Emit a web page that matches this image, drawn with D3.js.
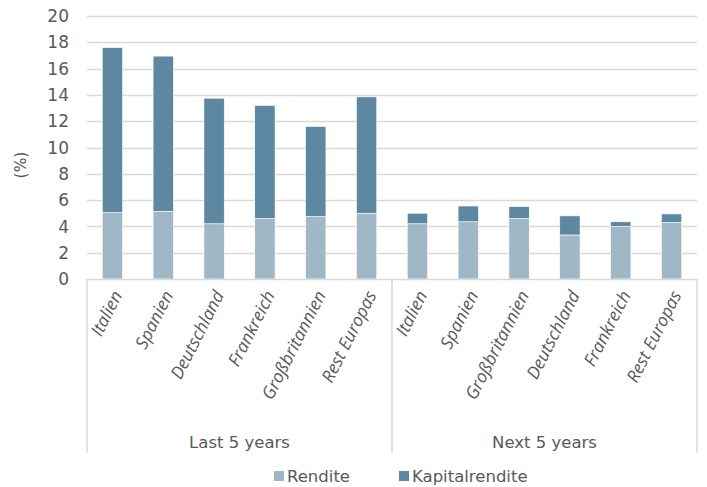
<!DOCTYPE html>
<html><head><meta charset="utf-8">
<script src="https://cdn.jsdelivr.net/npm/d3@7"></script>
<style>body{margin:0;background:#fff}svg{display:block}</style>
</head><body>
<script>
const groups = ["Last 5 years", "Next 5 years"];
const categoriesLast = ["Italien", "Spanien", "Deutschland", "Frankreich", "Großbritannien", "Rest Europas"];
const categoriesNext = ["Italien", "Spanien", "Großbritannien", "Deutschland", "Frankreich", "Rest Europas"];
const renditeLast = [5.05, 5.15, 4.2, 4.6, 4.75, 5.0];
const kapitalLast = [12.55, 11.8, 9.55, 8.6, 6.85, 8.85];
const renditeNext = [4.2, 4.35, 4.6, 3.35, 4.0, 4.3];
const kapitalNext = [0.8, 1.2, 0.9, 1.45, 0.35, 0.65];
const yTicks = [0, 2, 4, 6, 8, 10, 12, 14, 16, 18, 20];
const seriesNames = ["Rendite", "Kapitalrendite"];
const colors = ["#a0b7c6", "#5e87a1"];

const W = 707, H = 487;
const m = {left: 87, right: 697, top: 16, bottom: 279};
const rows = [];
categoriesLast.forEach((c, i) => rows.push({key: "L" + i, cat: c, g: 0, Rendite: renditeLast[i], Kapitalrendite: kapitalLast[i]}));
categoriesNext.forEach((c, i) => rows.push({key: "N" + i, cat: c, g: 1, Rendite: renditeNext[i], Kapitalrendite: kapitalNext[i]}));

const svg = d3.select("body").append("svg").attr("width", W).attr("height", H);
const x = d3.scaleBand().domain(rows.map(r => r.key)).range([m.left, m.right]).paddingInner(0.6).paddingOuter(0.3);
const y = d3.scaleLinear().domain([0, 20]).range([m.bottom, m.top]);
const textCol = "#595959", gridCol = "#d9d9d9";
const font = "'DejaVu Sans', sans-serif";

// gridlines
svg.append("g").selectAll("line").data(yTicks.filter(t => t > 0)).join("line")
  .attr("x1", m.left).attr("x2", m.right)
  .attr("y1", d => Math.round(y(d)) + 0.5).attr("y2", d => Math.round(y(d)) + 0.5)
  .attr("stroke", gridCol).attr("stroke-width", 1.5);

// y tick labels
svg.append("g").selectAll("text").data(yTicks).join("text")
  .attr("x", 69).attr("y", d => y(d)).attr("dy", "0.36em")
  .attr("text-anchor", "end").attr("fill", textCol)
  .style("font-family", font).style("font-size", "17px").text(d => d);

svg.append("text").attr("transform", `translate(21,165) rotate(-90)`)
  .attr("text-anchor", "middle").attr("dy", "0.35em").attr("fill", textCol)
  .style("font-family", font).style("font-size", "15.5px").text("(%)");

// stacked bars
const stack = d3.stack().keys(seriesNames)(rows);
svg.append("g").selectAll("g").data(stack).join("g").attr("fill", (d, i) => colors[i])
  .selectAll("rect").data(d => d).join("rect")
  .attr("x", d => x(d.data.key)).attr("width", x.bandwidth())
  .attr("y", d => y(d[1])).attr("height", d => y(d[0]) - y(d[1]))
  .attr("stroke", "#fff").attr("stroke-width", 0.6);

// axis line + group separators
svg.append("line").attr("x1", m.left).attr("x2", m.right).attr("y1", m.bottom + 0.5).attr("y2", m.bottom + 0.5)
  .attr("stroke", gridCol).attr("stroke-width", 1.5);
const seps = [m.left, m.left + (m.right - m.left) / 2, m.right];
svg.append("g").selectAll("line").data(seps).join("line")
  .attr("x1", d => d).attr("x2", d => d).attr("y1", m.bottom).attr("y2", 453)
  .attr("stroke", gridCol).attr("stroke-width", 1.5);

// category labels
svg.append("g").selectAll("text").data(rows).join("text")
  .attr("transform", d => `translate(${x(d.key) + x.bandwidth() / 2 + 5},${m.bottom + 13}) rotate(-63)`)
  .attr("text-anchor", "end").attr("dy", "0.35em").attr("fill", textCol)
  .style("font-family", "'Open Sans', sans-serif").style("font-style", "italic").style("font-size", "17.5px")
  .text(d => d.cat);

// group labels
svg.append("g").selectAll("text").data(groups).join("text")
  .attr("x", (d, i) => (seps[i] + seps[i + 1]) / 2).attr("y", 442).attr("dy", "0.35em")
  .attr("text-anchor", "middle").attr("fill", textCol)
  .style("font-family", font).style("font-size", "16.5px").text(d => d);

// legend
const legX = [274, 399];
const leg = svg.append("g").selectAll("g").data(seriesNames).join("g")
  .attr("transform", (d, i) => `translate(${legX[i]},471)`);
leg.append("rect").attr("width", 10).attr("height", 10).attr("fill", (d, i) => colors[i]);
leg.append("text").attr("x", 13).attr("y", 5).attr("dy", "0.36em").attr("fill", textCol)
  .style("font-family", font).style("font-size", "16.5px").text(d => d);
</script>
</body></html>
